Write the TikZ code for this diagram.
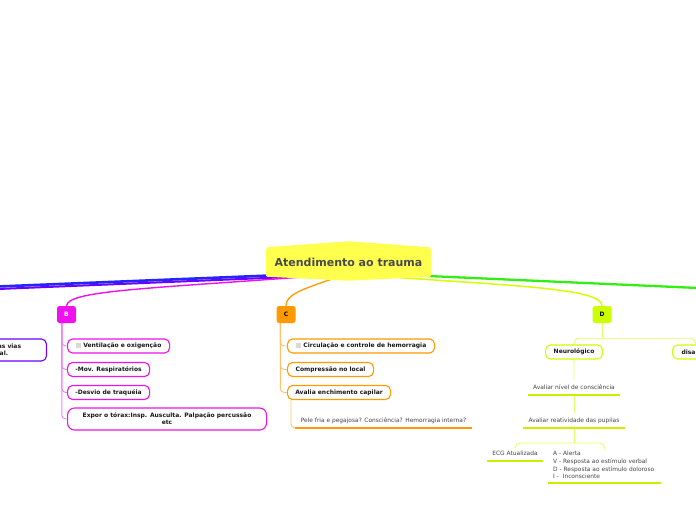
\documentclass[tikz,border=0pt]{standalone}
\usepackage{fontspec}
\setmainfont{DejaVu Sans}
\usetikzlibrary{calc,backgrounds}
\definecolor{rootyel}{HTML}{FFFF4D}
\definecolor{roottxt}{HTML}{4A4A4A}
\definecolor{magB}{HTML}{EE11EE}
\definecolor{orC}{HTML}{FF9900}
\definecolor{ygD}{HTML}{CCFF00}
\definecolor{ygStrong}{HTML}{C8F000}
\definecolor{blueA}{HTML}{2424FF}
\definecolor{violA}{HTML}{6A00FF}
\definecolor{greenE}{HTML}{33EE11}
\definecolor{txtg}{HTML}{444444}
\newcommand{\chkbox}{\textcolor{black!15}{\rule[-0.3pt]{5.5pt}{5.5pt}}}
\begin{document}
\begin{tikzpicture}[x=1pt,y=-1pt,
  letterbox/.style={rounded corners=2.5pt, minimum width=19pt, minimum height=17pt, inner sep=0pt,
    font=\fontsize{6}{6.5}\selectfont\bfseries},
  cbox/.style={draw, line width=1.1pt, rounded corners=5pt, fill=white, minimum height=14pt,
    inner xsep=3pt, inner ysep=1pt, anchor=west, text=black!90,
    font=\fontsize{6}{7}\selectfont\bfseries},
  ultext/.style={anchor=south, inner xsep=0pt, inner ysep=5pt, text=txtg,
    font=\fontsize{5.9}{7.6}\selectfont},
  ulone/.style={ultext, text depth=0pt},
  ulline/.style={line width=2.6pt},
  bcon/.style={draw=magB!55, line width=0.9pt, rounded corners=4pt},
  ccon/.style={draw=orC!60, line width=0.9pt, rounded corners=4pt},
  dcon/.style={draw=ygD!60, line width=0.9pt, rounded corners=5pt}
]
\useasboundingbox (0,0) rectangle (696,520);
\clip (0,0) rectangle (696,520);

% root
\node[minimum width=165pt, minimum height=29pt, inner sep=0pt, text=roottxt,
  font=\fontsize{11}{13}\selectfont\bfseries] (root) at (348.5,262) {Atendimento ao trauma};

% off-picture ends
\coordinate (aoffb) at (-2,286.5);
\coordinate (aoffv) at (-2,289);
\coordinate (eoff) at (698,288);

% letters
\node[letterbox, fill=magB, text=white] (B) at (66.5,314.5) {B};
\node[letterbox, fill=orC, text=black] (C) at (286,314.5) {C};
\node[letterbox, fill=ygD, text=black] (D) at (602,314.5) {D};

% A box (cut by the edge)
\node[cbox, draw=violA, anchor=east, minimum width=74pt, minimum height=22pt, align=right]
  (a1) at (47,350) {as vias\\al.\hspace*{13pt}};

% B children
\node[cbox, draw=magB, minimum width=102pt] (b1) at (67,346) {\chkbox\ Ventilação e oxigenção};
\node[cbox, draw=magB, minimum width=82pt] (b2) at (67,369.5) {-Mov. Respiratórios};
\node[cbox, draw=magB, minimum width=82pt] (b3) at (67,392.5) {-Desvio de traquéia};
\node[cbox, draw=magB, minimum width=199pt, minimum height=22pt, align=center, rounded corners=7pt]
  (b4) at (67,419) {Expor o tórax:Insp. Ausculta. Palpação percussão\\etc};

% C children
\node[cbox, draw=orC, minimum width=147pt] (c1) at (287,346) {\chkbox\ Circulação e controle de hemorragia};
\node[cbox, draw=orC, minimum width=86pt] (c2) at (287,369.5) {Compressão no local};
\node[cbox, draw=orC, minimum width=103pt] (c3) at (287,392.5) {Avalia enchimento capilar};
\node[ulone, minimum width=177pt] (pele) at (383.5,428) {Pele fria e pegajosa? Consciência? Hemorragia interna?};
\draw[ulline, orC] (pele.south west) -- (pele.south east);

% D children
\node[cbox, draw=ygD, minimum width=57pt] (neuro) at (545,352) {Neurológico};
\node[cbox, draw=ygD, text width=28pt, align=left, inner xsep=9pt] (dis) at (672,352) {disal};
\node[ulone, minimum width=92pt] (n1) at (574,395) {Avaliar nível de consciência};
\draw[ulline, ygStrong] (n1.south west) -- (n1.south east);
\node[ulone, minimum width=102pt] (n2) at (574,428) {Avaliar reatividade das pupilas};
\draw[ulline, ygStrong] (n2.south west) -- (n2.south east);
\node[ulone, minimum width=56pt] (ecg) at (515,461) {ECG Atualizada};
\draw[ulline, ygStrong] (ecg.south west) -- (ecg.south east);
\node[ultext, text width=103pt, inner xsep=5pt, inner ysep=4pt, align=left] (avdi) at (604.5,483)
  {A - Alerta\\V - Resposta ao estímulo verbal\\D - Resposta ao estímulo doloroso\\I -\ \ Inconsciente};
\draw[ulline, ygStrong] (avdi.south west) -- (avdi.south east);

\begin{scope}[on background layer]
  % main branches
  \draw[blueA, line width=2.6pt] ($(root.south west)+(24,-2)$) -- (aoffb);
  \draw[violA, line width=2pt] ($(root.south west)+(24,0.3)$) -- (aoffv);
  \draw[magB, line width=1.4pt] ($(root.south west)+(34,0.5)$) .. controls (140,289) and (68,291) .. (B.north);
  \draw[orC, line width=1.3pt] ($(root.south west)+(67,2)$) .. controls (300,290) and (286,295) .. (C.north);
  \draw[ygD!85!yellow, line width=1.5pt] ($(root.south east)+(-31,1)$) .. controls (520,286) and (602,289) .. (D.north);
  \draw[greenE, line width=2.3pt] ($(root.south east)+(-21,-1.5)$) -- (eoff);
  % B connectors
  \foreach \n in {b1,b2,b3,b4} \draw[bcon] ($(B.south west)+(5,0)$) |- (\n.west);
  % C connectors
  \foreach \n in {c1,c2,c3} \draw[ccon] ($(C.south west)+(4,0)$) |- (\n.west);
  \draw[ccon] ($(c3.south west)+(4,0)$) |- (pele.south west);
  % D connectors
  \draw[dcon] (D.south) -- ++(0,15) coordinate (dj);
  \draw[dcon] (dj) -| (neuro.north);
  \draw[dcon] (dj) -| (dis.north);
  \draw[dcon] (neuro.south) -- (n1.north);
  \draw[dcon] (n1.south) -- (n2.north);
  \draw[dcon] (n2.south) -- ++(0,15) coordinate (dj2);
  \draw[dcon] (dj2) -| (ecg.north);
  \draw[dcon] (dj2) -| (avdi.north);
  % root shape
  \fill[rootyel, rounded corners=2pt] (root.north west) -- ($(root.north)+(0,-6)$) -- (root.north east)
    -- (root.south east) -- ($(root.south)+(0,4)$) -- (root.south west) -- cycle;
\end{scope}
\end{tikzpicture}
\end{document}
